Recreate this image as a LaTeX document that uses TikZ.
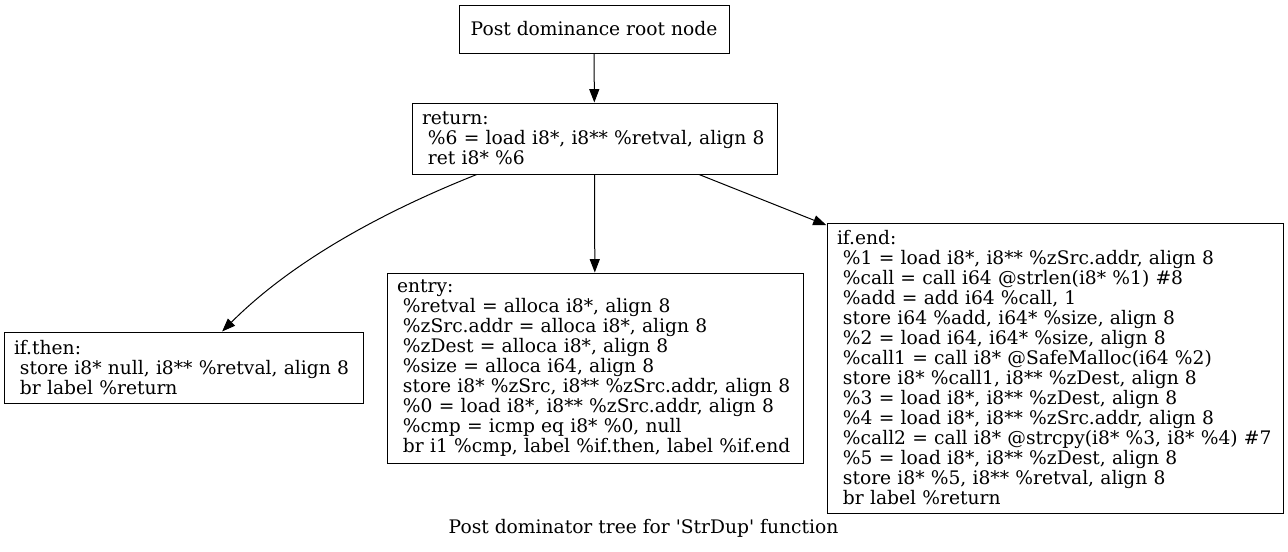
\documentclass[tikz,border=0pt]{standalone}
\usepackage{fontspec}
\newfontfamily\gvfont{DejaVu Serif}
\usetikzlibrary{arrows.meta}
\newcommand{\gvsp}{\hspace*{.32em}}

\begin{document}
\begin{tikzpicture}[
	x=0.75pt,
	y=-0.75pt,
	line width=0.75pt,
	txt/.style={
		font=\gvfont\fontsize{14}{15}\selectfont
	},
	blk/.style={
		txt,
		draw,
		rectangle,
		align=left,
		inner xsep=7.5pt,
		inner ysep=0pt
	},
	>={Triangle[length=10pt,width=7.5pt]}
	]
	\useasboundingbox (0,0) rectangle (1288,551);
	% tree nodes
	\node[blk, minimum width=202.5pt, minimum height=36pt] (root) at (594,29) {Post dominance root node};
	\node[blk, text width=258.75pt, minimum height=53.25pt] (return) at (594.5,138.5) {return:\\
		\gvsp\%6 = load i8*, i8** \%retval, align 8\\
		\gvsp ret i8* \%6};
	\node[blk, text width=254.25pt, minimum height=53.25pt] (ifthen) at (183.5,367.5) {if.then:\\
		\gvsp store i8* null, i8** \%retval, align 8\\
		\gvsp br label \%return};
	\node[blk, text width=297pt, minimum height=142.5pt] (entry) at (595,368) {entry:\\
		\gvsp\%retval = alloca i8*, align 8\\
		\gvsp\%zSrc.addr = alloca i8*, align 8\\
		\gvsp\%zDest = alloca i8*, align 8\\
		\gvsp\%size = alloca i64, align 8\\
		\gvsp store i8* \%zSrc, i8** \%zSrc.addr, align 8\\
		\gvsp\%0 = load i8*, i8** \%zSrc.addr, align 8\\
		\gvsp\%cmp = icmp eq i8* \%0, null\\
		\gvsp br i1 \%cmp, label \%if.then, label \%if.end};
	\node[blk, text width=327pt, minimum height=217.5pt] (ifend) at (1055,368) {if.end:\\
		\gvsp\%1 = load i8*, i8** \%zSrc.addr, align 8\\
		\gvsp\%call = call i64 @strlen(i8* \%1) \#8\\
		\gvsp\%add = add i64 \%call, 1\\
		\gvsp store i64 \%add, i64* \%size, align 8\\
		\gvsp\%2 = load i64, i64* \%size, align 8\\
		\gvsp\%call1 = call i8* @SafeMalloc(i64 \%2)\\
		\gvsp store i8* \%call1, i8** \%zDest, align 8\\
		\gvsp\%3 = load i8*, i8** \%zDest, align 8\\
		\gvsp\%4 = load i8*, i8** \%zSrc.addr, align 8\\
		\gvsp\%call2 = call i8* @strcpy(i8* \%3, i8* \%4) \#7\\
		\gvsp\%5 = load i8*, i8** \%zDest, align 8\\
		\gvsp store i8* \%5, i8** \%retval, align 8\\
		\gvsp br label \%return};
	\node[txt, anchor=base] (caption) at (643.5,533) {Post dominator tree for 'StrDup' function};
	% edges
	\draw[->] (root) -- (return);
	\draw[->] (return) -- (entry);
	\draw[->] (return.197.7) .. controls +(-93,37) and +(71,-71) .. (ifthen.43.4);
	\draw[->] (return.-19.1) -- (ifend.148.45);
\end{tikzpicture}
\end{document}
